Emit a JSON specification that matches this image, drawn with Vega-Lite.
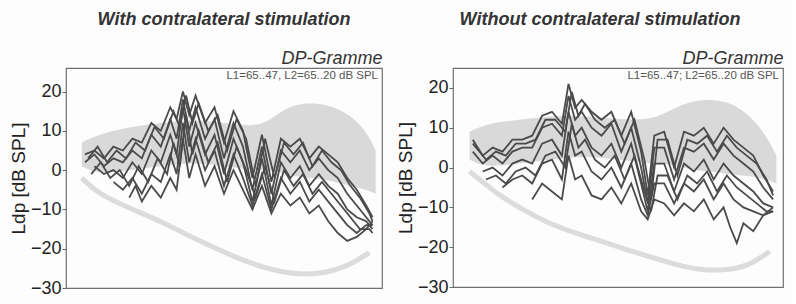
{
"$schema": "https://vega.github.io/schema/vega-lite/v6.json",
"padding": {"left": 8, "top": 10, "right": 8, "bottom": 8},
"spacing": 12,
"background": "#fdfdfd",
"config": {
  "font": "Liberation Sans",
  "view": {"stroke": "#707070", "strokeWidth": 1.2},
  "axis": {"domain": false, "grid": false, "labelFontSize": 18, "labelColor": "#222", "titleColor": "#222", "titleFontWeight": "normal", "titleFontSize": 19},
  "title": {"fontSize": 18, "fontStyle": "italic", "fontWeight": "bold", "color": "#333"}
},
"datasets": {
  "noteL": [{"t": "L1=65..47, L2=65..20 dB SPL"}],
  "noteR": [{"t": "L1=65..47; L2=65..20 dB SPL"}],
  "bandL": [{"f":5,"lo":1,"hi":7},{"f":10,"lo":-1,"hi":9},{"f":20,"lo":0,"hi":11},{"f":30,"lo":1,"hi":12},{"f":40,"lo":2,"hi":13},{"f":50,"lo":1,"hi":12},{"f":60,"lo":0,"hi":11},{"f":65,"lo":0,"hi":13},{"f":70,"lo":-1,"hi":16},{"f":75,"lo":-2,"hi":17},{"f":80,"lo":-2,"hi":17},{"f":85,"lo":-3,"hi":16},{"f":90,"lo":-4,"hi":14},{"f":95,"lo":-5,"hi":10},{"f":98,"lo":-6,"hi":5}],
  "bandR": [{"f":5,"lo":2,"hi":9},{"f":10,"lo":0,"hi":11},{"f":20,"lo":1,"hi":12},{"f":30,"lo":2,"hi":13},{"f":40,"lo":3,"hi":13},{"f":50,"lo":2,"hi":12},{"f":60,"lo":1,"hi":12},{"f":65,"lo":1,"hi":14},{"f":70,"lo":0,"hi":16},{"f":75,"lo":-1,"hi":17},{"f":80,"lo":-1,"hi":17},{"f":85,"lo":-2,"hi":16},{"f":90,"lo":-2,"hi":13},{"f":95,"lo":-3,"hi":8},{"f":98,"lo":-4,"hi":3}],
  "noiseL": [{"f":5,"v":-2},{"f":10,"v":-6},{"f":21,"v":-10},{"f":30,"v":-13},{"f":37,"v":-16},{"f":45,"v":-19},{"f":53,"v":-22},{"f":63,"v":-25},{"f":72,"v":-26.5},{"f":79,"v":-26.5},{"f":85,"v":-25.5},{"f":90,"v":-24},{"f":96,"v":-21}],
  "noiseR": [{"f":5,"v":-1},{"f":8,"v":-3},{"f":14,"v":-7},{"f":22,"v":-11},{"f":29,"v":-14},{"f":37,"v":-16.5},{"f":45,"v":-18.5},{"f":52,"v":-20.5},{"f":60,"v":-22.5},{"f":68,"v":-24.5},{"f":75,"v":-25.8},{"f":85,"v":-25.8},{"f":91,"v":-24},{"f":96,"v":-21}],
  "linesL": [
{"s":"A","f":6,"v":4},{"s":"A","f":9,"v":5},{"s":"A","f":12,"v":3},{"s":"A","f":15,"v":6},{"s":"A","f":18,"v":5},{"s":"A","f":21,"v":8},{"s":"A","f":24,"v":7},{"s":"A","f":27,"v":12},{"s":"A","f":30,"v":10},{"s":"A","f":33,"v":16},{"s":"A","f":35,"v":13},{"s":"A","f":37,"v":20},{"s":"A","f":39,"v":14},{"s":"A","f":41,"v":19},{"s":"A","f":44,"v":12},{"s":"A","f":47,"v":16},{"s":"A","f":50,"v":7},{"s":"A","f":53,"v":15},{"s":"A","f":56,"v":10},{"s":"A","f":59,"v":-2},{"s":"A","f":62,"v":9},{"s":"A","f":65,"v":-3},{"s":"A","f":68,"v":8},{"s":"A","f":71,"v":6},{"s":"A","f":74,"v":8},{"s":"A","f":77,"v":3},{"s":"A","f":80,"v":6},{"s":"A","f":83,"v":4},{"s":"A","f":86,"v":2},{"s":"A","f":89,"v":-2},{"s":"A","f":92,"v":-5},{"s":"A","f":95,"v":-9},{"s":"A","f":97,"v":-12},
{"s":"F","f":7,"v":3},{"s":"F","f":10,"v":6},{"s":"F","f":13,"v":2},{"s":"F","f":16,"v":5},{"s":"F","f":19,"v":3},{"s":"F","f":22,"v":7},{"s":"F","f":25,"v":5},{"s":"F","f":28,"v":11},{"s":"F","f":31,"v":8},{"s":"F","f":34,"v":15},{"s":"F","f":36,"v":11},{"s":"F","f":38,"v":19},{"s":"F","f":40,"v":12},{"s":"F","f":42,"v":17},{"s":"F","f":45,"v":10},{"s":"F","f":48,"v":14},{"s":"F","f":51,"v":5},{"s":"F","f":54,"v":13},{"s":"F","f":57,"v":8},{"s":"F","f":60,"v":-4},{"s":"F","f":63,"v":8},{"s":"F","f":66,"v":-2},{"s":"F","f":69,"v":7},{"s":"F","f":72,"v":4},{"s":"F","f":75,"v":7},{"s":"F","f":78,"v":1},{"s":"F","f":81,"v":5},{"s":"F","f":84,"v":2},{"s":"F","f":87,"v":0},{"s":"F","f":90,"v":-4},{"s":"F","f":93,"v":-7},{"s":"F","f":96,"v":-11},{"s":"F","f":97,"v":-13},
{"s":"B","f":6,"v":2},{"s":"B","f":9,"v":4},{"s":"B","f":12,"v":1},{"s":"B","f":15,"v":3},{"s":"B","f":18,"v":2},{"s":"B","f":21,"v":5},{"s":"B","f":24,"v":3},{"s":"B","f":27,"v":9},{"s":"B","f":30,"v":6},{"s":"B","f":33,"v":13},{"s":"B","f":35,"v":8},{"s":"B","f":37,"v":18},{"s":"B","f":39,"v":10},{"s":"B","f":41,"v":16},{"s":"B","f":44,"v":8},{"s":"B","f":47,"v":13},{"s":"B","f":50,"v":3},{"s":"B","f":53,"v":12},{"s":"B","f":56,"v":6},{"s":"B","f":59,"v":-5},{"s":"B","f":62,"v":6},{"s":"B","f":65,"v":-6},{"s":"B","f":68,"v":5},{"s":"B","f":71,"v":2},{"s":"B","f":74,"v":5},{"s":"B","f":77,"v":0},{"s":"B","f":80,"v":3},{"s":"B","f":83,"v":0},{"s":"B","f":86,"v":-2},{"s":"B","f":89,"v":-6},{"s":"B","f":92,"v":-9},{"s":"B","f":95,"v":-12},{"s":"B","f":97,"v":-14},
{"s":"C","f":9,"v":1},{"s":"C","f":12,"v":-1},{"s":"C","f":15,"v":0},{"s":"C","f":18,"v":-2},{"s":"C","f":21,"v":2},{"s":"C","f":24,"v":-1},{"s":"C","f":27,"v":5},{"s":"C","f":30,"v":2},{"s":"C","f":33,"v":9},{"s":"C","f":35,"v":4},{"s":"C","f":37,"v":16},{"s":"C","f":39,"v":6},{"s":"C","f":41,"v":12},{"s":"C","f":44,"v":4},{"s":"C","f":47,"v":9},{"s":"C","f":50,"v":-1},{"s":"C","f":53,"v":8},{"s":"C","f":56,"v":2},{"s":"C","f":59,"v":-8},{"s":"C","f":62,"v":3},{"s":"C","f":65,"v":-9},{"s":"C","f":68,"v":2},{"s":"C","f":71,"v":-2},{"s":"C","f":74,"v":1},{"s":"C","f":77,"v":-4},{"s":"C","f":80,"v":-1},{"s":"C","f":83,"v":-4},{"s":"C","f":86,"v":-6},{"s":"C","f":89,"v":-10},{"s":"C","f":92,"v":-12},{"s":"C","f":95,"v":-13},{"s":"C","f":97,"v":-15},
{"s":"G","f":8,"v":-1},{"s":"G","f":11,"v":2},{"s":"G","f":14,"v":-2},{"s":"G","f":17,"v":0},{"s":"G","f":20,"v":-4},{"s":"G","f":23,"v":1},{"s":"G","f":26,"v":-3},{"s":"G","f":29,"v":3},{"s":"G","f":32,"v":-1},{"s":"G","f":34,"v":7},{"s":"G","f":36,"v":1},{"s":"G","f":38,"v":14},{"s":"G","f":40,"v":4},{"s":"G","f":42,"v":10},{"s":"G","f":45,"v":2},{"s":"G","f":48,"v":7},{"s":"G","f":51,"v":-3},{"s":"G","f":54,"v":6},{"s":"G","f":57,"v":0},{"s":"G","f":60,"v":-7},{"s":"G","f":63,"v":1},{"s":"G","f":66,"v":-8},{"s":"G","f":69,"v":0},{"s":"G","f":72,"v":-4},{"s":"G","f":75,"v":-1},{"s":"G","f":78,"v":-6},{"s":"G","f":81,"v":-3},{"s":"G","f":84,"v":-6},{"s":"G","f":87,"v":-9},{"s":"G","f":90,"v":-12},{"s":"G","f":93,"v":-15},{"s":"G","f":96,"v":-15},{"s":"G","f":97,"v":-16},
{"s":"D","f":15,"v":-3},{"s":"D","f":18,"v":-5},{"s":"D","f":21,"v":-2},{"s":"D","f":24,"v":-6},{"s":"D","f":27,"v":-1},{"s":"D","f":30,"v":-3},{"s":"D","f":33,"v":4},{"s":"D","f":35,"v":-1},{"s":"D","f":37,"v":12},{"s":"D","f":39,"v":2},{"s":"D","f":41,"v":8},{"s":"D","f":44,"v":0},{"s":"D","f":47,"v":5},{"s":"D","f":50,"v":-4},{"s":"D","f":53,"v":4},{"s":"D","f":56,"v":-2},{"s":"D","f":59,"v":-9},{"s":"D","f":62,"v":-1},{"s":"D","f":65,"v":-10},{"s":"D","f":68,"v":-2},{"s":"D","f":71,"v":-6},{"s":"D","f":74,"v":-3},{"s":"D","f":77,"v":-8},{"s":"D","f":80,"v":-5},{"s":"D","f":83,"v":-8},{"s":"D","f":86,"v":-11},{"s":"D","f":89,"v":-14},{"s":"D","f":92,"v":-16},{"s":"D","f":95,"v":-14},{"s":"D","f":97,"v":-14},
{"s":"E","f":20,"v":-7},{"s":"E","f":22,"v":-4},{"s":"E","f":24,"v":-8},{"s":"E","f":27,"v":-4},{"s":"E","f":30,"v":-7},{"s":"E","f":33,"v":-2},{"s":"E","f":35,"v":-5},{"s":"E","f":37,"v":8},{"s":"E","f":39,"v":-2},{"s":"E","f":41,"v":4},{"s":"E","f":44,"v":-4},{"s":"E","f":47,"v":1},{"s":"E","f":50,"v":-6},{"s":"E","f":53,"v":0},{"s":"E","f":56,"v":-5},{"s":"E","f":59,"v":-10},{"s":"E","f":62,"v":-4},{"s":"E","f":65,"v":-11},{"s":"E","f":68,"v":-6},{"s":"E","f":71,"v":-9},{"s":"E","f":74,"v":-7},{"s":"E","f":77,"v":-11},{"s":"E","f":80,"v":-9},{"s":"E","f":83,"v":-13},{"s":"E","f":86,"v":-16},{"s":"E","f":89,"v":-18},{"s":"E","f":92,"v":-17},{"s":"E","f":95,"v":-15},{"s":"E","f":97,"v":-13}
  ],
  "linesR": [
{"s":"A","f":6,"v":7},{"s":"A","f":9,"v":3},{"s":"A","f":12,"v":5},{"s":"A","f":15,"v":4},{"s":"A","f":18,"v":7},{"s":"A","f":21,"v":7},{"s":"A","f":24,"v":8},{"s":"A","f":27,"v":13},{"s":"A","f":30,"v":14},{"s":"A","f":33,"v":11},{"s":"A","f":35,"v":21},{"s":"A","f":37,"v":15},{"s":"A","f":39,"v":17},{"s":"A","f":42,"v":14},{"s":"A","f":45,"v":12},{"s":"A","f":48,"v":14},{"s":"A","f":51,"v":8},{"s":"A","f":54,"v":14},{"s":"A","f":57,"v":4},{"s":"A","f":59,"v":-7},{"s":"A","f":61,"v":8},{"s":"A","f":64,"v":9},{"s":"A","f":67,"v":0},{"s":"A","f":70,"v":9},{"s":"A","f":73,"v":8},{"s":"A","f":76,"v":10},{"s":"A","f":79,"v":6},{"s":"A","f":82,"v":10},{"s":"A","f":85,"v":7},{"s":"A","f":88,"v":5},{"s":"A","f":91,"v":3},{"s":"A","f":94,"v":-2},{"s":"A","f":97,"v":-6},
{"s":"F","f":6,"v":6},{"s":"F","f":10,"v":2},{"s":"F","f":13,"v":4},{"s":"F","f":16,"v":3},{"s":"F","f":19,"v":6},{"s":"F","f":22,"v":6},{"s":"F","f":25,"v":7},{"s":"F","f":28,"v":12},{"s":"F","f":31,"v":12},{"s":"F","f":34,"v":9},{"s":"F","f":36,"v":19},{"s":"F","f":38,"v":13},{"s":"F","f":40,"v":16},{"s":"F","f":43,"v":12},{"s":"F","f":46,"v":10},{"s":"F","f":49,"v":12},{"s":"F","f":52,"v":6},{"s":"F","f":55,"v":12},{"s":"F","f":58,"v":2},{"s":"F","f":60,"v":-8},{"s":"F","f":62,"v":7},{"s":"F","f":65,"v":7},{"s":"F","f":68,"v":-2},{"s":"F","f":71,"v":7},{"s":"F","f":74,"v":6},{"s":"F","f":77,"v":8},{"s":"F","f":80,"v":4},{"s":"F","f":83,"v":8},{"s":"F","f":86,"v":5},{"s":"F","f":89,"v":3},{"s":"F","f":92,"v":1},{"s":"F","f":95,"v":-3},{"s":"F","f":97,"v":-7},
{"s":"B","f":6,"v":4},{"s":"B","f":9,"v":1},{"s":"B","f":12,"v":3},{"s":"B","f":15,"v":1},{"s":"B","f":18,"v":4},{"s":"B","f":21,"v":5},{"s":"B","f":24,"v":5},{"s":"B","f":27,"v":10},{"s":"B","f":30,"v":11},{"s":"B","f":33,"v":8},{"s":"B","f":35,"v":18},{"s":"B","f":37,"v":12},{"s":"B","f":39,"v":14},{"s":"B","f":42,"v":10},{"s":"B","f":45,"v":8},{"s":"B","f":48,"v":11},{"s":"B","f":51,"v":4},{"s":"B","f":54,"v":10},{"s":"B","f":57,"v":0},{"s":"B","f":59,"v":-9},{"s":"B","f":61,"v":5},{"s":"B","f":64,"v":5},{"s":"B","f":67,"v":-3},{"s":"B","f":70,"v":5},{"s":"B","f":73,"v":4},{"s":"B","f":76,"v":6},{"s":"B","f":79,"v":2},{"s":"B","f":82,"v":6},{"s":"B","f":85,"v":3},{"s":"B","f":88,"v":1},{"s":"B","f":91,"v":-1},{"s":"B","f":94,"v":-5},{"s":"B","f":97,"v":-8},
{"s":"C","f":9,"v":-1},{"s":"C","f":12,"v":0},{"s":"C","f":15,"v":-2},{"s":"C","f":18,"v":1},{"s":"C","f":21,"v":2},{"s":"C","f":24,"v":1},{"s":"C","f":27,"v":6},{"s":"C","f":30,"v":7},{"s":"C","f":33,"v":3},{"s":"C","f":35,"v":14},{"s":"C","f":37,"v":8},{"s":"C","f":39,"v":10},{"s":"C","f":42,"v":5},{"s":"C","f":45,"v":3},{"s":"C","f":48,"v":6},{"s":"C","f":51,"v":0},{"s":"C","f":54,"v":6},{"s":"C","f":57,"v":-4},{"s":"C","f":59,"v":-11},{"s":"C","f":61,"v":1},{"s":"C","f":64,"v":1},{"s":"C","f":67,"v":-6},{"s":"C","f":70,"v":1},{"s":"C","f":73,"v":-1},{"s":"C","f":76,"v":2},{"s":"C","f":79,"v":-3},{"s":"C","f":82,"v":1},{"s":"C","f":85,"v":-2},{"s":"C","f":88,"v":-4},{"s":"C","f":91,"v":-6},{"s":"C","f":94,"v":-9},{"s":"C","f":97,"v":-10},
{"s":"G","f":10,"v":-3},{"s":"G","f":13,"v":-2},{"s":"G","f":16,"v":-4},{"s":"G","f":19,"v":-1},{"s":"G","f":22,"v":0},{"s":"G","f":25,"v":-2},{"s":"G","f":28,"v":3},{"s":"G","f":31,"v":4},{"s":"G","f":34,"v":0},{"s":"G","f":36,"v":11},{"s":"G","f":38,"v":5},{"s":"G","f":40,"v":7},{"s":"G","f":43,"v":2},{"s":"G","f":46,"v":0},{"s":"G","f":49,"v":3},{"s":"G","f":52,"v":-3},{"s":"G","f":55,"v":3},{"s":"G","f":58,"v":-6},{"s":"G","f":60,"v":-11},{"s":"G","f":62,"v":-2},{"s":"G","f":65,"v":-2},{"s":"G","f":68,"v":-8},{"s":"G","f":71,"v":-2},{"s":"G","f":74,"v":-4},{"s":"G","f":77,"v":-1},{"s":"G","f":80,"v":-6},{"s":"G","f":83,"v":-2},{"s":"G","f":86,"v":-5},{"s":"G","f":89,"v":-7},{"s":"G","f":92,"v":-9},{"s":"G","f":95,"v":-11},{"s":"G","f":97,"v":-11},
{"s":"D","f":15,"v":-5},{"s":"D","f":18,"v":-3},{"s":"D","f":21,"v":-2},{"s":"D","f":24,"v":-4},{"s":"D","f":27,"v":1},{"s":"D","f":30,"v":2},{"s":"D","f":33,"v":-3},{"s":"D","f":35,"v":9},{"s":"D","f":37,"v":3},{"s":"D","f":39,"v":4},{"s":"D","f":42,"v":-1},{"s":"D","f":45,"v":-3},{"s":"D","f":48,"v":0},{"s":"D","f":51,"v":-5},{"s":"D","f":54,"v":1},{"s":"D","f":57,"v":-8},{"s":"D","f":59,"v":-12},{"s":"D","f":61,"v":-4},{"s":"D","f":64,"v":-4},{"s":"D","f":67,"v":-9},{"s":"D","f":70,"v":-4},{"s":"D","f":73,"v":-6},{"s":"D","f":76,"v":-3},{"s":"D","f":79,"v":-8},{"s":"D","f":82,"v":-4},{"s":"D","f":85,"v":-8},{"s":"D","f":88,"v":-10},{"s":"D","f":91,"v":-11},{"s":"D","f":94,"v":-12},{"s":"D","f":97,"v":-11},
{"s":"E","f":24,"v":-8},{"s":"E","f":27,"v":-4},{"s":"E","f":30,"v":-6},{"s":"E","f":33,"v":-8},{"s":"E","f":35,"v":3},{"s":"E","f":37,"v":-3},{"s":"E","f":39,"v":-2},{"s":"E","f":42,"v":-7},{"s":"E","f":45,"v":-8},{"s":"E","f":48,"v":-5},{"s":"E","f":51,"v":-9},{"s":"E","f":54,"v":-4},{"s":"E","f":57,"v":-11},{"s":"E","f":59,"v":-13},{"s":"E","f":61,"v":-8},{"s":"E","f":64,"v":-9},{"s":"E","f":67,"v":-12},{"s":"E","f":70,"v":-9},{"s":"E","f":73,"v":-11},{"s":"E","f":76,"v":-8},{"s":"E","f":79,"v":-13},{"s":"E","f":82,"v":-10},{"s":"E","f":84,"v":-15},{"s":"E","f":86,"v":-19},{"s":"E","f":88,"v":-14},{"s":"E","f":91,"v":-16},{"s":"E","f":94,"v":-12},{"s":"E","f":97,"v":-10}
  ]
},
"hconcat": [
 {
  "width": 316, "height": 220,
  "title": {"text": "With contralateral stimulation", "frame": "group", "anchor": "middle", "offset": 20},
  "layer": [
   {"data": {"name": "bandL"}, "mark": {"type": "area", "interpolate": "basis", "color": "#d2d2d2", "opacity": 0.85},
    "encoding": {
      "x": {"field": "f", "type": "quantitative", "scale": {"domain": [0, 100]}, "axis": {"orient": "top", "labels": false, "ticks": false, "title": "DP-Gramme", "titleAnchor": "end", "titleFontStyle": "italic", "titleFontSize": 18, "titleColor": "#333", "titlePadding": 1}},
      "y": {"field": "lo", "type": "quantitative", "title": "Ldp  [dB SPL]", "scale": {"domain": [-30, 26], "nice": false}, "axis": {"values": [-30, -20, -10, 0, 10, 20], "tickSize": 4, "tickColor": "#666", "labelPadding": 1, "titlePadding": 2}},
      "y2": {"field": "hi"}}},
   {"data": {"name": "noiseL"}, "mark": {"type": "line", "interpolate": "basis", "color": "#dcdcdc", "strokeWidth": 5},
    "encoding": {"x": {"field": "f", "type": "quantitative"}, "y": {"field": "v", "type": "quantitative", "title": "Ldp  [dB SPL]"}}},
   {"data": {"name": "linesL"}, "mark": {"type": "line", "color": "#4a4a4a", "strokeWidth": 1.8},
    "encoding": {"x": {"field": "f", "type": "quantitative"}, "y": {"field": "v", "type": "quantitative", "title": "Ldp  [dB SPL]"}, "detail": {"field": "s"}}},
   {"data": {"name": "noteL"}, "mark": {"type": "text", "align": "right", "baseline": "middle", "fontSize": 11.5, "color": "#555", "dx": -4},
    "encoding": {"x": {"datum": 100}, "y": {"datum": 24}, "text": {"field": "t"}}}
  ]
 },
 {
  "width": 330, "height": 219,
  "title": {"text": "Without contralateral stimulation", "frame": "group", "anchor": "middle", "offset": 20, "dx": -18},
  "layer": [
   {"data": {"name": "bandR"}, "mark": {"type": "area", "interpolate": "basis", "color": "#d2d2d2", "opacity": 0.85},
    "encoding": {
      "x": {"field": "f", "type": "quantitative", "scale": {"domain": [0, 100]}, "axis": {"orient": "top", "labels": false, "ticks": false, "title": "DP-Gramme", "titleAnchor": "end", "titleFontStyle": "italic", "titleFontSize": 18, "titleColor": "#333", "titlePadding": 1}},
      "y": {"field": "lo", "type": "quantitative", "title": "Ldp  [dB SPL]", "scale": {"domain": [-30, 25], "nice": false}, "axis": {"values": [-30, -20, -10, 0, 10, 20], "tickSize": 4, "tickColor": "#666", "labelPadding": 1, "titlePadding": 2}},
      "y2": {"field": "hi"}}},
   {"data": {"name": "noiseR"}, "mark": {"type": "line", "interpolate": "basis", "color": "#dcdcdc", "strokeWidth": 5},
    "encoding": {"x": {"field": "f", "type": "quantitative"}, "y": {"field": "v", "type": "quantitative", "title": "Ldp  [dB SPL]"}}},
   {"data": {"name": "linesR"}, "mark": {"type": "line", "color": "#4a4a4a", "strokeWidth": 1.8},
    "encoding": {"x": {"field": "f", "type": "quantitative"}, "y": {"field": "v", "type": "quantitative", "title": "Ldp  [dB SPL]"}, "detail": {"field": "s"}}},
   {"data": {"name": "noteR"}, "mark": {"type": "text", "align": "right", "baseline": "middle", "fontSize": 11.5, "color": "#555", "dx": -4},
    "encoding": {"x": {"datum": 100}, "y": {"datum": 23}, "text": {"field": "t"}}}
  ]
 }
]
}
